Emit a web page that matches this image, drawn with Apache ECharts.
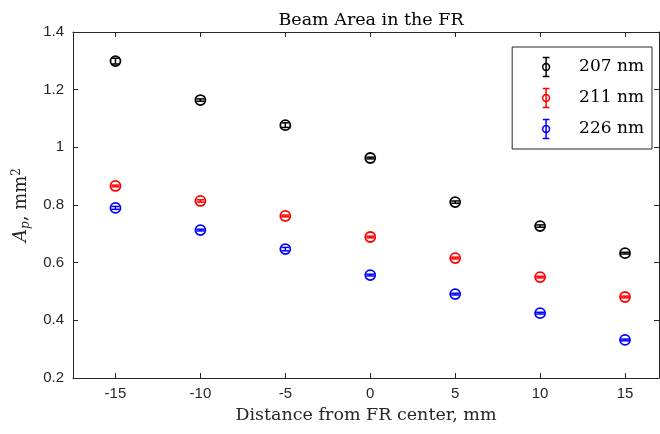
<!DOCTYPE html>
<html><head><meta charset="utf-8">
<script src="https://cdn.jsdelivr.net/npm/echarts@6/dist/echarts.min.js"></script>
<style>html,body{margin:0;padding:0;background:#fff}#c{width:660px;height:434px}</style>
</head><body><div id="c"></div>
<script>
const positions = [-15, -10, -5, 0, 5, 10, 15];
const seriesNames = ['207 nm', '211 nm', '226 nm'];
const seriesColors = ['#000000', '#ff0000', '#0000ff'];
const area207 = [1.299, 1.164, 1.077, 0.963, 0.810, 0.727, 0.633];
const area211 = [0.866, 0.814, 0.762, 0.689, 0.616, 0.550, 0.481];
const area226 = [0.790, 0.713, 0.647, 0.557, 0.491, 0.425, 0.332];
const err207 = [0.010, 0.004, 0.008, 0.003, 0.004, 0.004, 0.003];
const err211 = [0.003, 0.004, 0.003, 0.003, 0.003, 0.003, 0.003];
const err226 = [0.005, 0.003, 0.006, 0.003, 0.003, 0.003, 0.003];
const yTicks = [0.2, 0.4, 0.6, 0.8, 1, 1.2, 1.4];

const values = [area207, area211, area226];
const errs = [err207, err211, err226];

const serif = 'DejaVu Serif';
const sans = 'Liberation Sans';

function renderItem(params, api) {
  const x = api.value(0), y = api.value(1), e = api.value(2);
  const c = api.coord([x, y]);
  const lo = api.coord([x, y - e]);
  const hi = api.coord([x, y + e]);
  const col = api.visual('color');
  const st = {stroke: col, lineWidth: 1.5, fill: null};
  const cap = 4;
  return {type: 'group', children: [
    {type: 'circle', shape: {cx: c[0], cy: c[1], r: 5}, style: {stroke: col, lineWidth: 1.8, fill: 'none'}},
    {type: 'line', shape: {x1: lo[0], y1: lo[1], x2: hi[0], y2: hi[1]}, style: st},
    {type: 'line', shape: {x1: lo[0]-cap, y1: lo[1], x2: lo[0]+cap, y2: lo[1]}, style: st},
    {type: 'line', shape: {x1: hi[0]-cap, y1: hi[1], x2: hi[0]+cap, y2: hi[1]}, style: st}
  ]};
}

const series = seriesNames.map((name, i) => ({
  name: name,
  type: 'custom',
  renderItem: renderItem,
  itemStyle: {color: seriesColors[i]},
  encode: {x: 0, y: 1},
  data: positions.map((p, j) => [p, values[i][j], errs[i][j]]),
  z: 3
}));

const iconPath = 'path://M4,0L4,20M0.5,0L7.5,0M0.5,20L7.5,20M0.4,10A3.6,3.6,0,1,1,7.6,10A3.6,3.6,0,1,1,0.4,10Z';

const axisLineStyle = {color: '#262626', width: 1};
const chart = echarts.init(document.getElementById('c'));
chart.setOption({
  animation: false,
  backgroundColor: '#fff',
  title: {
    text: 'Beam Area in the FR', left: 366, textAlign: 'center', top: 6,
    textStyle: {fontFamily: serif, fontSize: 17.5, fontWeight: 'normal', color: '#000'}
  },
  legend: {
    orient: 'vertical', right: 8, top: 47,
    backgroundColor: '#fff', borderColor: '#262626', borderWidth: 1, borderRadius: 0,
    padding: [8, 8, 8, 28],
    itemWidth: 8, itemHeight: 19, itemGap: 7,
    textStyle: {fontFamily: serif, fontSize: 17, lineHeight: 19, color: '#000', padding: [0, 0, 0, 24]},
    data: seriesNames.map((n, i) => ({
      name: n, icon: iconPath,
      itemStyle: {color: 'none', borderColor: seriesColors[i], borderWidth: 1.5}
    }))
  },
  grid: {left: 73, right: 1, top: 32, bottom: 56, containLabel: false},
  xAxis: [{
    type: 'value', min: -17.5, max: 17, interval: 5,
    name: 'Distance from FR center, mm', nameLocation: 'middle', nameGap: 28,
    nameTextStyle: {fontFamily: serif, fontSize: 17.5, color: '#262626'},
    axisLine: {onZero: false, lineStyle: axisLineStyle},
    axisTick: {inside: true, length: 5, lineStyle: axisLineStyle, customValues: positions},
    axisLabel: {fontFamily: sans, fontSize: 15, color: '#262626', margin: 8, customValues: positions},
    splitLine: {show: false}
  }, {
    type: 'value', position: 'top', min: -17.5, max: 17, interval: 5,
    axisLine: {onZero: false, lineStyle: axisLineStyle},
    axisTick: {inside: true, length: 5, lineStyle: axisLineStyle, customValues: positions},
    axisLabel: {show: false}, splitLine: {show: false}
  }],
  yAxis: [{
    type: 'value', min: 0.2, max: 1.4, interval: 0.2,
    name: '{i|A}{s|p}{t|, mm}{sup|2}', nameLocation: 'middle', nameGap: 40,
    nameTextStyle: {
      color: '#262626',
      rich: {
        i: {fontFamily: serif, fontStyle: 'italic', fontSize: 18, color: '#262626'},
        s: {fontFamily: serif, fontStyle: 'italic', fontSize: 12, color: '#262626', padding: [9, 0, 0, 0]},
        t: {fontFamily: serif, fontSize: 18, color: '#262626'},
        sup: {fontFamily: serif, fontSize: 12, color: '#262626', padding: [0, 0, 10, 0]}
      }
    },
    axisLine: {show: true, onZero: false, lineStyle: axisLineStyle},
    axisTick: {show: true, inside: true, length: 5, lineStyle: axisLineStyle},
    axisLabel: {fontFamily: sans, fontSize: 15, color: '#262626', margin: 9,
      formatter: v => String(+v.toFixed(1))},
    splitLine: {show: false}
  }, {
    type: 'value', position: 'right', min: 0.2, max: 1.4, interval: 0.2,
    axisLine: {show: true, onZero: false, lineStyle: axisLineStyle},
    axisTick: {show: true, inside: true, length: 5, lineStyle: axisLineStyle},
    axisLabel: {show: false}, splitLine: {show: false}
  }],
  series: series
});
</script></body></html>
